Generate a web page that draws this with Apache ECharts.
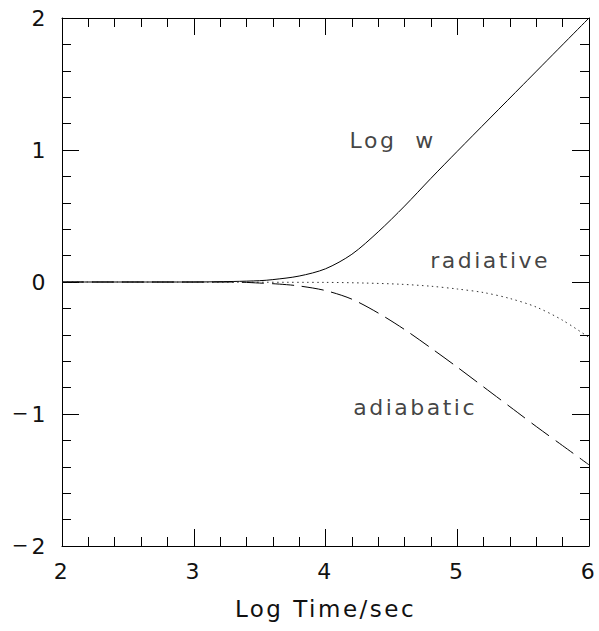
<!DOCTYPE html>
<html><head><meta charset="utf-8">
<script src="https://cdn.jsdelivr.net/npm/echarts@6/dist/echarts.min.js"></script>
<style>html,body{margin:0;padding:0;background:#fff}#c{width:599px;height:631px}#c text{letter-spacing:2.5px}</style>
</head><body><div id="c"></div>
<script>
var xTicks = [2, 3, 4, 5, 6];
var yTicks = [-2, -1, 0, 1, 2];
var logW = [[2,0],[3,0],[3.3,0.004],[3.5,0.01],[3.6,0.018],[3.8,0.045],[4.0,0.1],[4.2,0.21],[4.4,0.38],[4.6,0.575],[4.8,0.785],[5.0,0.99],[5.5,1.495],[6.0,2.0]];
var radiative = [[2,0],[4,-0.003],[4.3,-0.008],[4.57,-0.017],[4.8,-0.032],[5.0,-0.053],[5.2,-0.08],[5.4,-0.125],[5.6,-0.19],[5.8,-0.29],[6,-0.42]];
var adiabatic = [[2,0],[3.3,0],[3.5,-0.008],[3.65,-0.016],[3.8,-0.03],[4.0,-0.065],[4.2,-0.13],[4.4,-0.235],[4.6,-0.36],[4.8,-0.5],[5.0,-0.645],[5.2,-0.795],[5.4,-0.945],[5.6,-1.095],[5.8,-1.24],[6.0,-1.385]];
var annotations = [["Log  w", 4.51, 1.07], ["radiative", 5.25, 0.16], ["adiabatic", 4.68, -0.95]];
var xTitle = "Log Time/sec";

var FONT = "DejaVu Sans";
var TXT = "#111";
function axisBase(showLabel) {
  return {
    min: xTicks[0], max: xTicks[xTicks.length-1], interval: 1,
    axisLine: {show: true, onZero: false, lineStyle: {color: "#000", width: 1}},
    axisTick: {show: true, inside: true, length: 17, lineStyle: {color: "#000", width: 1}},
    minorTick: {show: true, splitNumber: 5, length: 9, lineStyle: {color: "#000", width: 1}},
    splitLine: {show: false},
    axisLabel: {show: showLabel, color: TXT, fontFamily: FONT, fontSize: 22, margin: 14}
  };
}
var xb = axisBase(true);
xb.type = "value"; xb.position = "bottom";
xb.name = xTitle; xb.nameLocation = "middle"; xb.nameGap = 51;
xb.nameTextStyle = {color: TXT, fontFamily: FONT, fontSize: 23};
var xt = axisBase(false); xt.type = "value"; xt.position = "top";
var yl = axisBase(true); yl.type = "value"; yl.position = "left";
yl.min = yTicks[0]; yl.max = yTicks[yTicks.length-1];
yl.axisLabel.margin = 14;
yl.axisLabel.formatter = function(v){ return v < 0 ? "{m|\u2212}" + (-v) : String(v); };
yl.axisLabel.rich = {m: {fontSize: 20, fontFamily: FONT, color: TXT, padding: [0, 3, 2, 0]}};
var yr = axisBase(false); yr.type = "value"; yr.position = "right";
yr.min = yTicks[0]; yr.max = yTicks[yTicks.length-1];

var chart = echarts.init(document.getElementById("c"), null, {renderer: "svg"});
chart.setOption({
  animation: false,
  backgroundColor: "#fff",
  grid: {left: 62, right: 10, top: 18, bottom: 85, containLabel: false},
  xAxis: [xb, xt],
  yAxis: [yl, yr],
  series: [
    {type: "line", data: logW, smooth: 0.3, showSymbol: false, symbol: "none", lineStyle: {color: "#000", width: 1, type: "solid"}, clip: true},
    {type: "line", data: radiative, smooth: 0.3, showSymbol: false, symbol: "none", lineStyle: {color: "#333", width: 1, type: [1.5, 3.5]}, clip: true},
    {type: "line", data: adiabatic, smooth: 0.3, showSymbol: false, symbol: "none", lineStyle: {color: "#000", width: 1, type: [22, 8]}, clip: true},
    {type: "scatter", symbolSize: 0, silent: true,
      data: annotations.map(function(a){ return {value: [a[1], a[2]], name: a[0]}; }),
      label: {show: true, position: "inside", formatter: "{b}", color: TXT, fontFamily: FONT, fontSize: 22}}
  ]
});
</script></body></html>
